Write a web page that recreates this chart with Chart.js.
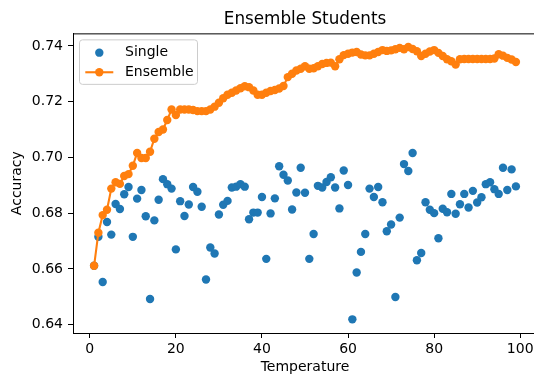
<!DOCTYPE html>
<html>
<head>
<meta charset="utf-8">
<script src="https://cdn.jsdelivr.net/npm/chart.js@4"></script>
<style>
html,body{margin:0;padding:0;overflow:hidden;background:#fff;}
#wrap{position:absolute;left:0;top:0;width:545px;height:376px;}
</style>
</head>
<body>
<div id="wrap"><canvas id="c"></canvas></div>
<script>
const chartTitle = "Ensemble Students";
const xTitle = "Temperature";
const yTitle = "Accuracy";
const seriesNames = ["Single", "Ensemble"];

const temperatures = [1,2,3,4,5,6,7,8,9,10,11,12,13,14,15,16,17,18,19,20,
21,22,23,24,25,26,27,28,29,30,31,32,33,34,35,36,37,38,39,40,
41,42,43,44,45,46,47,48,49,50,51,52,53,54,55,56,57,58,59,60,
61,62,63,64,65,66,67,68,69,70,71,72,73,74,75,76,77,78,79,80,
81,82,83,84,85,86,87,88,89,90,91,92,93,94,95,96,97,98,99];

const singleAcc = [0.6611,0.6715,0.6553,0.6768,0.6723,0.6833,0.6815,0.6868,0.6894,0.6715,
0.6852,0.6883,0.6789,0.6492,0.6774,0.6848,0.6922,0.6904,0.6888,0.6670,
0.6843,0.6790,0.6831,0.6894,0.6877,0.6823,0.6562,0.6677,0.6655,0.6795,
0.6830,0.6844,0.6892,0.6895,0.6904,0.6895,0.6778,0.6802,0.6802,0.6858,
0.6636,0.6799,0.6853,0.6968,0.6938,0.6917,0.6813,0.6874,0.6963,0.6873,
0.6636,0.6725,0.6898,0.6892,0.6912,0.6929,0.6892,0.6817,0.6953,0.6901,
0.6419,0.6587,0.6661,0.6725,0.6888,0.6858,0.6894,0.6839,0.6735,0.6759,
0.6499,0.6784,0.6976,0.6951,0.7016,0.6631,0.6657,0.6839,0.6812,0.6800,
0.6710,0.6816,0.6803,0.6869,0.6798,0.6832,0.6869,0.6820,0.6880,0.6838,
0.6857,0.6904,0.6911,0.6886,0.6869,0.6963,0.6883,0.6957,0.6896];

const ensembleAcc = [0.6611,0.6730,0.6793,0.6812,0.6888,0.6911,0.6905,0.6933,0.6940,0.6970,
0.7016,0.6998,0.6998,0.7020,0.7067,0.7091,0.7100,0.7134,0.7172,0.7152,
0.7172,0.7172,0.7172,0.7170,0.7166,0.7166,0.7166,0.7172,0.7182,0.7196,
0.7212,0.7225,0.7232,0.7240,0.7248,0.7255,0.7252,0.7240,0.7225,0.7225,
0.7232,0.7238,0.7242,0.7247,0.7256,0.7288,0.7300,0.7312,0.7318,0.7327,
0.7318,0.7320,0.7327,0.7335,0.7339,0.7340,0.7327,0.7352,0.7367,0.7372,
0.7376,0.7378,0.7369,0.7366,0.7366,0.7372,0.7378,0.7385,0.7382,0.7384,
0.7388,0.7393,0.7388,0.7396,0.7389,0.7381,0.7364,0.7372,0.7380,0.7385,
0.7375,0.7364,0.7352,0.7345,0.7333,0.7352,0.7353,0.7353,0.7353,0.7353,
0.7353,0.7353,0.7353,0.7355,0.7370,0.7365,0.7357,0.7351,0.7342];

const xTicks = [0, 20, 40, 60, 80, 100];
const yTicks = [0.64, 0.66, 0.68, 0.70, 0.72, 0.74];

const BLUE = "#1f77b4", ORANGE = "#ff7f0e";
const FONT = "'DejaVu Sans', sans-serif";

const framePlugin = {
  id: "frame",
  beforeDatasetsDraw(chart) {
    const {ctx, chartArea: a} = chart;
    ctx.save();
    ctx.strokeStyle = "#000";
    ctx.lineWidth = 1;
    ctx.beginPath();
    ctx.moveTo(a.left, a.top + 0.5);
    ctx.lineTo(a.right, a.top + 0.5);
    ctx.moveTo(a.right - 0.5, a.top);
    ctx.lineTo(a.right - 0.5, a.bottom);
    ctx.stroke();
    ctx.restore();
  }
};

const legendPlugin = {
  id: "mplLegend",
  afterDatasetsDraw(chart) {
    const {ctx, chartArea: a} = chart;
    const x0 = a.left + 6.5, y0 = a.top + 6.5, w = 118, h = 44.5, r = 3;
    ctx.save();
    ctx.beginPath();
    ctx.moveTo(x0 + r, y0);
    ctx.lineTo(x0 + w - r, y0);
    ctx.quadraticCurveTo(x0 + w, y0, x0 + w, y0 + r);
    ctx.lineTo(x0 + w, y0 + h - r);
    ctx.quadraticCurveTo(x0 + w, y0 + h, x0 + w - r, y0 + h);
    ctx.lineTo(x0 + r, y0 + h);
    ctx.quadraticCurveTo(x0, y0 + h, x0, y0 + h - r);
    ctx.lineTo(x0, y0 + r);
    ctx.quadraticCurveTo(x0, y0, x0 + r, y0);
    ctx.closePath();
    ctx.fillStyle = "rgba(255,255,255,0.8)";
    ctx.fill();
    ctx.strokeStyle = "#cccccc";
    ctx.lineWidth = 1;
    ctx.stroke();

    const mx = a.left + 26.3;
    const row1 = a.top + 19.3, row2 = a.top + 38.9;
    // Single marker
    ctx.fillStyle = BLUE;
    ctx.beginPath(); ctx.arc(mx, row1, 4.2, 0, Math.PI * 2); ctx.fill();
    // Ensemble line + marker
    ctx.strokeStyle = ORANGE; ctx.lineWidth = 2.1;
    ctx.beginPath(); ctx.moveTo(mx - 14, row2); ctx.lineTo(mx + 14, row2); ctx.stroke();
    ctx.fillStyle = ORANGE;
    ctx.beginPath(); ctx.arc(mx, row2, 4.2, 0, Math.PI * 2); ctx.fill();

    ctx.fillStyle = "#000";
    ctx.font = "14px " + FONT;
    ctx.textBaseline = "middle";
    ctx.textAlign = "left";
    ctx.fillText(seriesNames[0], a.left + 52, row1);
    ctx.fillText(seriesNames[1], a.left + 52, row2);
    ctx.restore();
  }
};

const singlePts = temperatures.map((t, i) => ({x: t, y: singleAcc[i]}));
const ensemblePts = temperatures.map((t, i) => ({x: t, y: ensembleAcc[i]}));

new Chart(document.getElementById("c"), {
  type: "scatter",
  data: {
    datasets: [
      {
        label: seriesNames[1], data: ensemblePts, showLine: true, order: 0,
        borderColor: ORANGE, borderWidth: 2.1, backgroundColor: ORANGE,
        pointRadius: 4.2, pointBorderWidth: 0, pointBackgroundColor: ORANGE,
        tension: 0
      },
      {
        label: seriesNames[0], data: singlePts, showLine: false, order: 1,
        backgroundColor: BLUE, pointRadius: 4.2, pointBorderWidth: 0,
        pointBackgroundColor: BLUE
      }
    ]
  },
  options: {
    responsive: true,
    maintainAspectRatio: false,
    animation: false,
    layout: {padding: {left: 0, right: 8, top: 0, bottom: 0}},
    plugins: {
      legend: {display: false},
      tooltip: {enabled: false},
      title: {
        display: true, text: chartTitle, fullSize: false, color: "#000",
        font: {family: FONT, size: 16.8, weight: "normal", lineHeight: 1.2},
        padding: {top: 10, bottom: 3.2}
      }
    },
    scales: {
      x: {
        type: "linear", min: -3.9, max: 103.9,
        afterFit(s) { s.height = 43; },
        afterBuildTicks(s) { s.ticks = xTicks.map(v => ({value: v})); },
        ticks: {color: "#000", font: {family: FONT, size: 14}, padding: 2.5, maxRotation: 0,
                callback: v => String(v)},
        grid: {display: true, drawOnChartArea: false, drawTicks: true, tickLength: 5, tickColor: "#000", tickWidth: 1},
        border: {display: true, color: "#000", width: 1},
        title: {display: true, text: xTitle, color: "#000", font: {family: FONT, size: 14, lineHeight: 1.2}, padding: {top: 0, bottom: 0}}
      },
      y: {
        type: "linear", min: 0.637, max: 0.7445,
        afterFit(s) { s.width = 73; },
        afterBuildTicks(s) { s.ticks = yTicks.map(v => ({value: v})); },
        ticks: {color: "#000", font: {family: FONT, size: 14}, padding: 5,
                callback: v => v.toFixed(2)},
        grid: {display: true, drawOnChartArea: false, drawTicks: true, tickLength: 5, tickColor: "#000", tickWidth: 1},
        border: {display: true, color: "#000", width: 1},
        title: {display: true, text: yTitle, color: "#000", font: {family: FONT, size: 14, lineHeight: 1.2}, padding: {top: 8.6, bottom: 0}}
      }
    }
  },
  plugins: [framePlugin, legendPlugin]
});
</script>
</body>
</html>
